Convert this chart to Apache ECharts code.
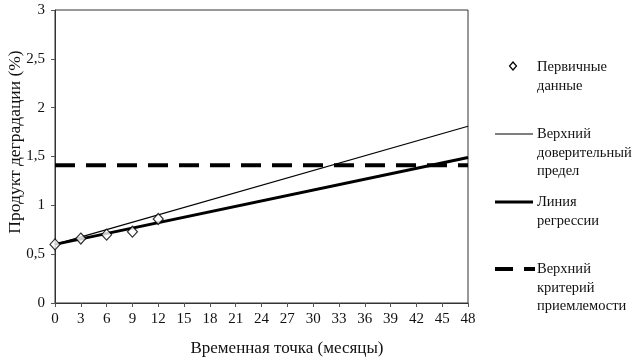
<!DOCTYPE html>
<html><head><meta charset="utf-8">
<script src="https://cdn.jsdelivr.net/npm/echarts@6/dist/echarts.min.js"></script>
<style>html,body{margin:0;padding:0;background:#fff}#c{width:635px;height:364px}</style>
</head><body><div id="c"></div>
<script>
const months = [0, 3, 6, 9, 12];
const primaryData = [0.6, 0.66, 0.7, 0.73, 0.86];
const regressionX = [0, 48];
const regressionY = [0.6, 1.49];
const upperConfX = [0, 48];
const upperConfY = [0.6, 1.81];
const criterionX = [0, 48];
const criterionY = [1.41, 1.41];
const xTitle = 'Временная точка (месяцы)';
const yTitle = 'Продукт деградации (%)';
const legendTexts = {
  primary: 'Первичные\nданные',
  conf: 'Верхний\nдоверительный\nпредел',
  reg: 'Линия\nрегрессии',
  crit: 'Верхний\nкритерий\nприемлемости'
};
const zip = (a, b) => a.map((v, i) => [v, b[i]]);
const font = 'Liberation Serif';
const chart = echarts.init(document.getElementById('c'));
const txt = (x, y, t) => ({type:'text', left:x, top:y, style:{text:t, font:'14.5px "Liberation Serif"', fill:'#111', lineHeight:18.5}});
chart.setOption({
  animation:false,
  grid:{left:55, right:167, top:10, bottom:61, show:true, borderColor:'#333', borderWidth:1},
  xAxis:{type:'value', min:0, max:48, interval:3,
    axisLine:{lineStyle:{color:'#333'}}, axisTick:{length:4, lineStyle:{color:'#555'}},
    axisLabel:{fontFamily:font, fontSize:15, color:'#111', margin:9},
    splitLine:{show:false}},
  yAxis:{type:'value', min:0, max:3, interval:0.5,
    axisLine:{show:true, lineStyle:{color:'#333'}}, axisTick:{show:true, length:4, lineStyle:{color:'#555'}},
    axisLabel:{fontFamily:font, fontSize:15, color:'#111', margin:10, formatter:v=>String(v).replace('.',',')},
    splitLine:{show:false}},
  series:[
    {type:'line', data:zip(criterionX, criterionY), symbol:'none', lineStyle:{color:'#000', width:4, type:[20,11]}},
    {type:'line', data:zip(upperConfX, upperConfY), symbol:'none', lineStyle:{color:'#000', width:1.2}},
    {type:'line', data:zip(regressionX, regressionY), symbol:'none', lineStyle:{color:'#000', width:3}},
    {type:'scatter', data:zip(months, primaryData), symbol:'diamond', symbolSize:[10,11],
      itemStyle:{color:'#fff', borderColor:'#000', borderWidth:1.2}, z:5}
  ],
  graphic:[
    {type:'text', x:287, y:349, style:{text:xTitle, font:'17px "Liberation Serif"', fill:'#111', align:'center', verticalAlign:'middle'}},
    {type:'text', x:15, y:142, rotation:Math.PI/2, style:{text:yTitle, font:'17.5px "Liberation Serif"', fill:'#111', align:'center', verticalAlign:'middle'}},
    {type:'polygon', shape:{points:[[513,62],[516.5,66],[513,70],[509.5,66]]}, style:{fill:'#fff', stroke:'#000', lineWidth:1.2}},
    txt(537, 58, legendTexts.primary),
    {type:'line', shape:{x1:495, y1:134, x2:533, y2:134}, style:{stroke:'#000', lineWidth:1.2}},
    txt(537, 125, legendTexts.conf),
    {type:'line', shape:{x1:495, y1:202, x2:533, y2:202}, style:{stroke:'#000', lineWidth:3}},
    txt(537, 193, legendTexts.reg),
    {type:'line', shape:{x1:495, y1:269, x2:513, y2:269}, style:{stroke:'#000', lineWidth:4}},
    {type:'line', shape:{x1:524, y1:269, x2:535, y2:269}, style:{stroke:'#000', lineWidth:4}},
    txt(537, 260, legendTexts.crit)
  ]
});
</script></body></html>
